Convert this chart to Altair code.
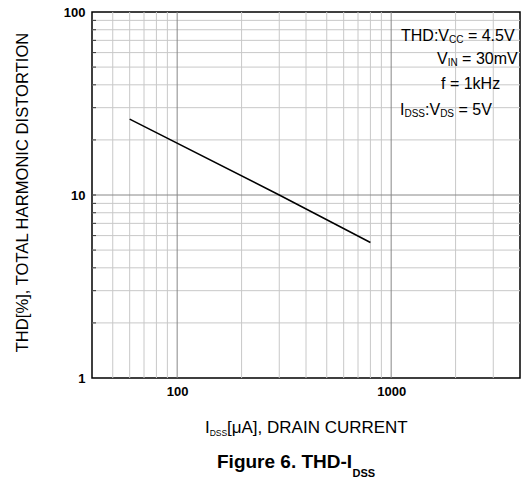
import altair as alt
import pandas as pd

# ---- data ----
x_current = [60, 300, 800]          # I_DSS [uA]
y_thd = [26, 10, 5.5]               # THD [%]
x_minor = [50, 60, 70, 80, 90, 200, 300, 400, 500, 600, 700, 800, 900, 2000, 3000]
x_major = [100, 1000]
y_minor = [2, 3, 4, 5, 6, 7, 8, 9, 20, 30, 40, 50, 60, 70, 80, 90]
y_major = [10]
x_ticks = [100, 1000]
y_ticks = [1, 10, 100]

FONT = "Liberation Sans"
X0, Y0 = 92, 12
W, H = 428, 366

xs = alt.Scale(type="log", domain=[40, 4000], nice=False)
ys = alt.Scale(type="log", domain=[1, 100], nice=False)

xaxis = alt.Axis(values=x_ticks, format="d", title=None, grid=False, ticks=False, domain=False,
                 labelFont=FONT, labelFontWeight="bold", labelFontSize=13, labelColor="black",
                 labelPadding=7)
yaxis = alt.Axis(values=y_ticks, format="d", title=None, grid=False, ticks=False, domain=False,
                 labelFont=FONT, labelFontWeight="bold", labelFontSize=13, labelColor="black",
                 labelPadding=7, labelBaseline="middle")

line_df = pd.DataFrame({"x": x_current, "y": y_thd})

xmin_rules = alt.Chart(pd.DataFrame({"x": x_minor})).mark_rule(color="#c8c8c8", strokeWidth=1).encode(
    x=alt.X("x:Q", scale=xs, axis=xaxis))
ymin_rules = alt.Chart(pd.DataFrame({"y": y_minor})).mark_rule(color="#c8c8c8", strokeWidth=1).encode(
    y=alt.Y("y:Q", scale=ys, axis=yaxis))
xmaj_rules = alt.Chart(pd.DataFrame({"x": x_major})).mark_rule(color="#888888", strokeWidth=1).encode(
    x=alt.X("x:Q", scale=xs, axis=xaxis))
ymaj_rules = alt.Chart(pd.DataFrame({"y": y_major})).mark_rule(color="#888888", strokeWidth=1).encode(
    y=alt.Y("y:Q", scale=ys, axis=yaxis))
ytick_marks = alt.Chart(pd.DataFrame({"y": y_minor + y_major})).mark_rule(color="#333333", strokeWidth=1).encode(
    y=alt.Y("y:Q", scale=ys, axis=yaxis), x=alt.value(0), x2=alt.value(4))

line = alt.Chart(line_df).mark_line(color="black", strokeWidth=1.5).encode(
    x=alt.X("x:Q", scale=xs, axis=xaxis),
    y=alt.Y("y:Q", scale=ys, axis=yaxis))

dummy = pd.DataFrame({"a": [0]})

# approximate Arial advance widths (em)
REG = {'T': .611, 'H': .722, 'D': .722, ':': .278, 'V': .667, 'C': .722, ' ': .278,
       '=': .584, '4': .556, '.': .278, '5': .556, 'I': .278, 'N': .722, '3': .556, '0': .556,
       'm': .833, 'f': .278, '1': .556, 'k': .5, 'z': .5, 'S': .667}

layers_text = []


def seg(text, x, y, size, bold=False, align="left", angle=0):
    layers_text.append(
        alt.Chart(dummy).mark_text(text=text, font=FONT, fontSize=size,
                                   fontWeight="bold" if bold else "normal", align=align,
                                   baseline="alphabetic", color="black", angle=angle)
        .encode(x=alt.value(x - X0), y=alt.value(y - Y0)))


def chain(pieces, x, y):
    for text, size, dy in pieces:
        stripped = text.lstrip(" ")
        x += (len(text) - len(stripped)) * REG[" "] * size
        seg(stripped, x, y + dy, size)
        x += sum(REG.get(c, .6) for c in stripped) * size


# legend box text
chain([("THD:V", 16, 0), ("CC", 10, 2), (" = 4.5V", 16, 0)], 401, 41)
chain([("V", 16, 0), ("IN", 10, 2), (" = 30mV", 16, 0)], 437, 64)
chain([("f = 1kHz", 16, 0)], 441, 89)
chain([("I", 16, 0), ("DSS", 10, 2), (":V", 16, 0), ("DS", 10, 2), (" = 5V", 16, 0)], 400, 115)

# x axis title
seg("I", 205, 433, 17)
seg("DSS", 209.7, 435.5, 8.5)
seg("[μA], DRAIN CURRENT", 227, 433, 17)
# caption
seg("Figure 6. THD-I", 217, 468, 19, bold=True)
seg("DSS", 352.5, 476.5, 11, bold=True)
# y axis title
seg("THD[%], TOTAL HARMONIC DISTORTION", 27.5, 192.5, 16.6, align="center", angle=270)

chart = alt.layer(xmin_rules, ymin_rules, xmaj_rules, ymaj_rules, ytick_marks, line, *layers_text).properties(
    width=W, height=H,
    autosize=alt.AutoSizeParams(type="none"),
    padding={"left": X0, "top": Y0, "right": 526 - X0 - W, "bottom": 481 - Y0 - H},
    background="white",
).configure_view(stroke="black", strokeWidth=1.5)

chart.save("out.html", embed_options={"renderer": "svg", "actions": False})
